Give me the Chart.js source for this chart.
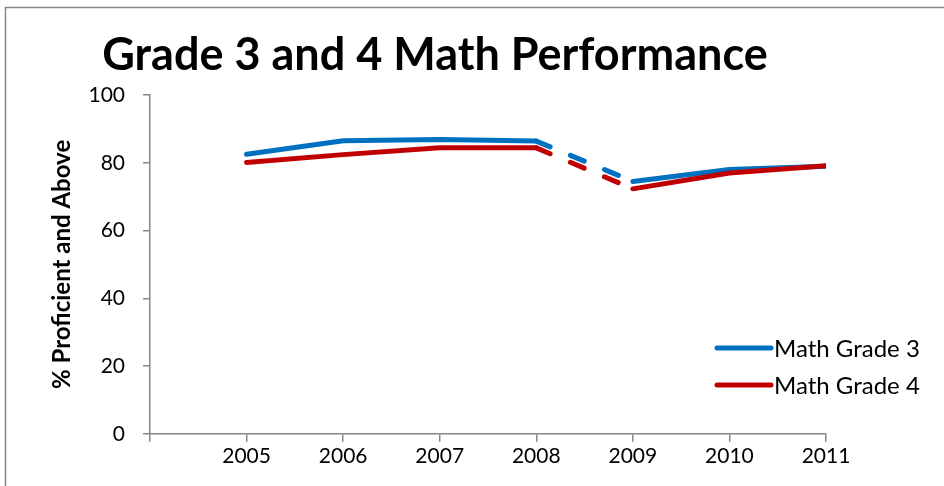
<!DOCTYPE html>
<html lang="en">
<head>
    <meta charset="UTF-8">
    <title>Grade 3 and 4 Math Performance</title>
    <script src="https://cdn.jsdelivr.net/npm/chart.js"></script>
    <style>
        html, body { margin: 0; padding: 0; background: #ffffff; }
        .wrap { width: 944px; height: 486px; position: relative; }
    </style>
</head>
<body>
    <div class="wrap">
        <canvas id="mathChart" width="944" height="486"></canvas>
    </div>

    <script>
        // chart data
        const years = [2005, 2006, 2007, 2008, 2009, 2010, 2011];
        const grade3 = [82.5, 86.5, 86.9, 86.4, 74.5, 78.0, 79.0];
        const grade4 = [80.1, 82.4, 84.4, 84.4, 72.3, 77.0, 79.1];
        const seriesNames = ['Math Grade 3', 'Math Grade 4'];
        const yTicks = [0, 20, 40, 60, 80, 100];

        const FONT = 'Lato, "Open Sans", sans-serif';
        const AXIS_GREY = '#868686';

        // the 2008 -> 2009 segment is dashed
        const dashedFrom = years.indexOf(2008);

        // outer frame (only top and left edges show in the picture)
        const framePlugin = {
            id: 'frame',
            beforeDraw(chart) {
                const c = chart.ctx;
                c.save();
                c.strokeStyle = AXIS_GREY;
                c.lineWidth = 1.5;
                c.beginPath();
                c.moveTo(5.5, chart.height);
                c.lineTo(5.5, 7.5);
                c.lineTo(chart.width, 7.5);
                c.stroke();
                c.restore();
            }
        };

        // legend drawn inside the plot, lower right
        const legendPlugin = {
            id: 'cornerLegend',
            afterDraw(chart) {
                const c = chart.ctx;
                const x0 = chart.chartArea.right - 109;
                const y0 = 348;
                c.save();
                c.font = '24px ' + FONT;
                c.textBaseline = 'middle';
                c.lineCap = 'round';
                chart.data.datasets.forEach((ds, i) => {
                    const y = y0 + i * 37;
                    c.strokeStyle = ds.borderColor;
                    c.lineWidth = 5;
                    c.beginPath();
                    c.moveTo(x0, y);
                    c.lineTo(x0 + 54, y);
                    c.stroke();
                    c.fillStyle = '#000';
                    c.fillText(ds.label, x0 + 57, y + 1);
                });
                c.restore();
            }
        };

        const ctx = document.getElementById('mathChart').getContext('2d');
        const chart = new Chart(ctx, {
            type: 'line',
            data: {
                datasets: [{
                    label: seriesNames[0],
                    data: years.map((yr, i) => ({ x: yr, y: grade3[i] })),
                    borderColor: '#0070C0',
                    order: 1
                },
                {
                    label: seriesNames[1],
                    data: years.map((yr, i) => ({ x: yr, y: grade4[i] })),
                    borderColor: '#C00000',
                    order: 0
                }]
            },
            options: {
                responsive: false,
                animation: false,
                devicePixelRatio: 1,
                layout: {
                    padding: { left: 44, right: 118, top: 0, bottom: 15 }
                },
                elements: {
                    point: { radius: 0 },
                    line: {
                        borderWidth: 5,
                        borderCapStyle: 'round',
                        borderJoinStyle: 'round',
                        tension: 0,
                        fill: false
                    }
                },
                datasets: {
                    line: {
                        segment: {
                            borderDash: c => c.p0DataIndex === dashedFrom ? [15, 22] : undefined
                        }
                    }
                },
                scales: {
                    x: {
                        type: 'linear',
                        min: 2004,
                        max: 2011,
                        afterBuildTicks(scale) {
                            scale.ticks = [2004].concat(years).map(v => ({ value: v }));
                        },
                        ticks: {
                            color: '#000',
                            font: { family: FONT, size: 21 },
                            padding: 2,
                            maxRotation: 0,
                            autoSkip: false,
                            callback: v => years.includes(v) ? String(v) : ''
                        },
                        grid: {
                            drawOnChartArea: false,
                            color: AXIS_GREY,
                            lineWidth: 1.5,
                            tickLength: 8
                        },
                        border: { color: AXIS_GREY, width: 1.5 }
                    },
                    y: {
                        min: 0,
                        max: 100,
                        afterFit(scale) { scale.width = 106; },
                        afterBuildTicks(scale) {
                            scale.ticks = yTicks.map(v => ({ value: v }));
                        },
                        ticks: {
                            color: '#000',
                            font: { family: FONT, size: 21 },
                            padding: 18
                        },
                        grid: {
                            drawOnChartArea: false,
                            color: AXIS_GREY,
                            lineWidth: 1.5,
                            tickLength: 7
                        },
                        border: { color: AXIS_GREY, width: 1.5 },
                        title: {
                            display: true,
                            text: '% Proficient and Above',
                            color: '#000',
                            font: { family: FONT, size: 24, weight: 'bold' },
                            padding: { top: 4, bottom: 4 }
                        }
                    }
                },
                plugins: {
                    legend: { display: false },
                    tooltip: { enabled: false },
                    title: {
                        display: true,
                        text: 'Grade 3 and 4 Math Performance',
                        color: '#000',
                        font: { family: FONT, size: 45, weight: 'bold' },
                        padding: { top: 28, bottom: 13 }
                    }
                }
            },
            plugins: [framePlugin, legendPlugin]
        });
    </script>
</body>
</html>
